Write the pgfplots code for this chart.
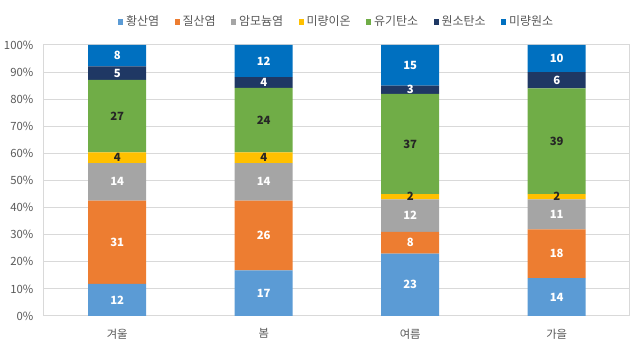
\documentclass[border=0pt]{standalone}
\usepackage{fontspec}
\setmainfont{Noto Sans CJK KR}
\usepackage{pgfplots}
\pgfplotsset{compat=1.18}
\usepackage{pgfplotstable}

\definecolor{cSulf}{HTML}{5B9BD5}
\definecolor{cNitr}{HTML}{ED7D31}
\definecolor{cAmmo}{HTML}{A5A5A5}
\definecolor{cIon}{HTML}{FFC000}
\definecolor{cOC}{HTML}{70AD47}
\definecolor{cEC}{HTML}{1F3864}
\definecolor{cTrace}{HTML}{0070C0}
\definecolor{cGrid}{HTML}{D9D9D9}
\definecolor{cText}{HTML}{595959}
\definecolor{cDark}{HTML}{262626}

% heights are the labelled values scaled to 100% per season; lab = printed value
\pgfplotstableread{
x y lab
0 11.881 12
1 16.832 17
2 23 23
3 14 14
}\tSulf
\pgfplotstableread{
x y lab
0 30.693 31
1 25.743 26
2 8 8
3 18 18
}\tNitr
\pgfplotstableread{
x y lab
0 13.861 14
1 13.861 14
2 12 12
3 11 11
}\tAmmo
\pgfplotstableread{
x y lab
0 3.960 4
1 3.960 4
2 2 2
3 2 2
}\tIon
\pgfplotstableread{
x y lab
0 26.733 27
1 23.762 24
2 37 37
3 39 39
}\tOC
\pgfplotstableread{
x y lab
0 4.950 5
1 3.960 4
2 3 3
3 6 6
}\tEC
\pgfplotstableread{
x y lab
0 7.921 8
1 11.881 12
2 15 15
3 10 10
}\tTrace

\begin{document}
\begin{tikzpicture}
\useasboundingbox (-33pt,-24.75pt) rectangle (447pt,237pt);
\begin{axis}[
  at={(0,0)}, anchor=south west,
  scale only axis, width=439.5pt, height=203.25pt,
  ybar stacked, bar width=43.5pt,
  xmin=-0.5, xmax=3.5, ymin=0, ymax=100,
  xtick={0,1,2,3}, xticklabels={겨울,봄,여름,가을},
  ytick={0,10,...,100},
  yticklabel={\pgfmathprintnumber{\tick}\%},
  /pgf/number format/assume math mode=true,
  tick style={draw=none}, major tick length=0pt,
  ymajorgrids, grid style={draw=cGrid, line width=0.75pt},
  axis line style={draw=cGrid, line width=0.75pt},
  ticklabel style={font=\fontsize{8.5}{10}\selectfont, text=cText},
  yticklabel style={xshift=-4.5pt},
  xticklabel style={yshift=-6pt},
  legend style={at={(0.5,1.085)}, anchor=center, draw=none, fill=none,
    legend columns=-1, font=\fontsize{9}{10}\selectfont, text=cText,
    /tikz/every even column/.append style={column sep=9.5pt},
    /tikz/every odd column/.append style={column sep=0pt}},
  legend image code/.code={\fill[#1] (0.5pt,-2pt) rectangle (4.5pt,2pt);},
  point meta=explicit symbolic,
  nodes near coords={\pgfplotspointmeta},
  every node near coord/.append style={anchor=center, font=\fontsize{8.5}{9}\bfseries\selectfont},
]
\addplot[fill=cSulf, draw=none, every node near coord/.append style={text=white}] table[x=x,y=y,meta=lab] {\tSulf};
\addlegendentry{황산염}
\addplot[fill=cNitr, draw=none, every node near coord/.append style={text=white}] table[x=x,y=y,meta=lab] {\tNitr};
\addlegendentry{질산염}
\addplot[fill=cAmmo, draw=none, every node near coord/.append style={text=white}] table[x=x,y=y,meta=lab] {\tAmmo};
\addlegendentry{암모늄염}
\addplot[fill=cIon, draw=none, every node near coord/.append style={text=cDark}] table[x=x,y=y,meta=lab] {\tIon};
\addlegendentry{미량이온}
\addplot[fill=cOC, draw=none, every node near coord/.append style={text=cDark}] table[x=x,y=y,meta=lab] {\tOC};
\addlegendentry{유기탄소}
\addplot[fill=cEC, draw=none, every node near coord/.append style={text=white}] table[x=x,y=y,meta=lab] {\tEC};
\addlegendentry{원소탄소}
\addplot[fill=cTrace, draw=none, every node near coord/.append style={text=white}] table[x=x,y=y,meta=lab] {\tTrace};
\addlegendentry{미량원소}
\end{axis}
\end{tikzpicture}
\end{document}
